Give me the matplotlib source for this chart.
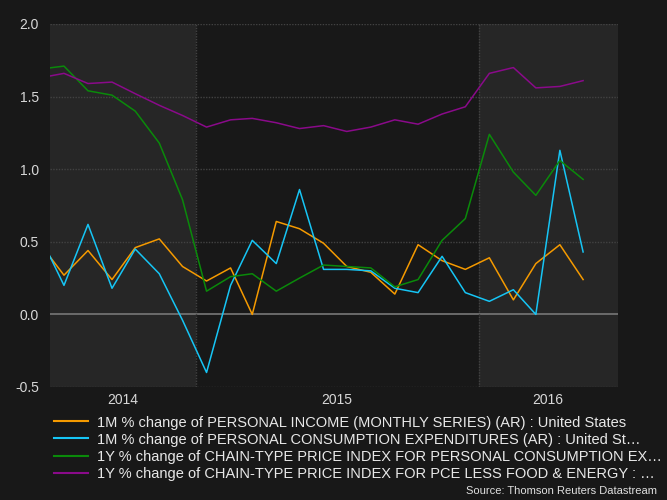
import numpy as np
import pandas as pd
import matplotlib
matplotlib.use("Agg")
import matplotlib.pyplot as plt
from matplotlib.lines import Line2D

# monthly observations, Jun 2014 .. May 2016 (plotted mid-month)
dates = pd.date_range("2014-06-01", "2016-05-01", freq="MS") + pd.Timedelta(days=14)

income = [0.48, 0.27, 0.44, 0.24, 0.46, 0.52, 0.33, 0.23, 0.32, 0.00, 0.64, 0.59,
          0.49, 0.33, 0.29, 0.14, 0.48, 0.37, 0.31, 0.39, 0.10, 0.35, 0.48, 0.24]
spending = [0.53, 0.20, 0.62, 0.18, 0.45, 0.28, -0.04, -0.40, 0.20, 0.51, 0.35, 0.86,
            0.31, 0.31, 0.30, 0.18, 0.15, 0.40, 0.15, 0.09, 0.17, 0.00, 1.13, 0.43]
pce_yoy = [1.69, 1.71, 1.54, 1.51, 1.40, 1.18, 0.79, 0.16, 0.26, 0.28, 0.16, 0.25,
           0.34, 0.33, 0.32, 0.19, 0.24, 0.51, 0.66, 1.24, 0.98, 0.82, 1.06, 0.93]
core_yoy = [1.63, 1.66, 1.59, 1.60, 1.52, 1.44, 1.37, 1.29, 1.34, 1.35, 1.32, 1.28,
            1.30, 1.26, 1.29, 1.34, 1.31, 1.38, 1.43, 1.66, 1.70, 1.56, 1.57, 1.61]

labels = [
    "1M % change of PERSONAL INCOME (MONTHLY SERIES) (AR) : United States",
    "1M % change of PERSONAL CONSUMPTION EXPENDITURES (AR) : United St\u2026",
    "1Y % change of CHAIN-TYPE PRICE INDEX FOR PERSONAL CONSUMPTION EX\u2026",
    "1Y % change of CHAIN-TYPE PRICE INDEX FOR PCE LESS FOOD & ENERGY : \u2026",
]
colors = ["#f59a00", "#16c5f5", "#0a8a0a", "#8a0a8a"]
yticks = [-0.5, 0.0, 0.5, 1.0, 1.5, 2.0]

x_start = pd.Timestamp("2014-06-27")
x_end = pd.Timestamp("2016-06-29")
y2015 = pd.Timestamp("2015-01-01")
y2016 = pd.Timestamp("2016-01-01")

bg = "#181818"
band = "#262626"

plt.rcParams["font.family"] = ["Liberation Sans", "DejaVu Sans"]

fig = plt.figure(figsize=(6.67, 5), dpi=100, facecolor=bg)
ax = fig.add_axes([0.075, 0.226, 0.8515, 0.726])
ax.set_facecolor(bg)

ax.axvspan(x_start, y2015, color=band, zorder=0, lw=0)
ax.axvspan(y2016, x_end, color=band, zorder=0, lw=0)

for yy in yticks:
    if yy == 0:
        ax.axhline(0, color="#777777", lw=1.2, zorder=1)
    else:
        ax.axhline(yy, color="#424242", lw=1.0, ls=(0, (1, 1)), zorder=1)
for xx in [y2015, y2016]:
    ax.axvline(xx, color="#424242", lw=1.0, ls=(0, (1, 1)), zorder=1)

series = [income, spending, pce_yoy, core_yoy]
for vals, c in zip(series, colors):
    ax.plot(dates, vals, color=c, lw=1.1, zorder=3)

ax.set_xlim(x_start, x_end)
ax.set_ylim(-0.5, 2.0)
ax.set_yticks(yticks)
ax.set_yticklabels([f"{v:.1f}" for v in yticks])

mids = [x_start + (y2015 - x_start) / 2, y2015 + (y2016 - y2015) / 2, y2016 + (x_end - y2016) / 2]
ax.set_xticks(mids)
ax.set_xticklabels(["2014", "2015", "2016"])

ax.tick_params(axis="both", length=0, colors="#d8d8d8", labelsize=10)
ax.tick_params(axis="y", pad=8)
ax.tick_params(axis="x", pad=4)
for s in ax.spines.values():
    s.set_visible(False)

handles = [Line2D([0], [0], color=c, lw=1.5) for c in colors]
leg = fig.legend(handles, labels, loc="upper left", bbox_to_anchor=(0.081, 0.169),
                 frameon=False, fontsize=10.5, handlelength=2.33, handletextpad=0.62,
                 labelspacing=0.21, borderaxespad=0, borderpad=0)
for t in leg.get_texts():
    t.set_color("#e8e8e8")

fig.text(0.985, 0.018, "Source: Thomson Reuters Datastream", ha="right", va="center",
         color="#e0e0e0", fontsize=8)

fig.savefig("out.png", dpi=100, facecolor=bg)
